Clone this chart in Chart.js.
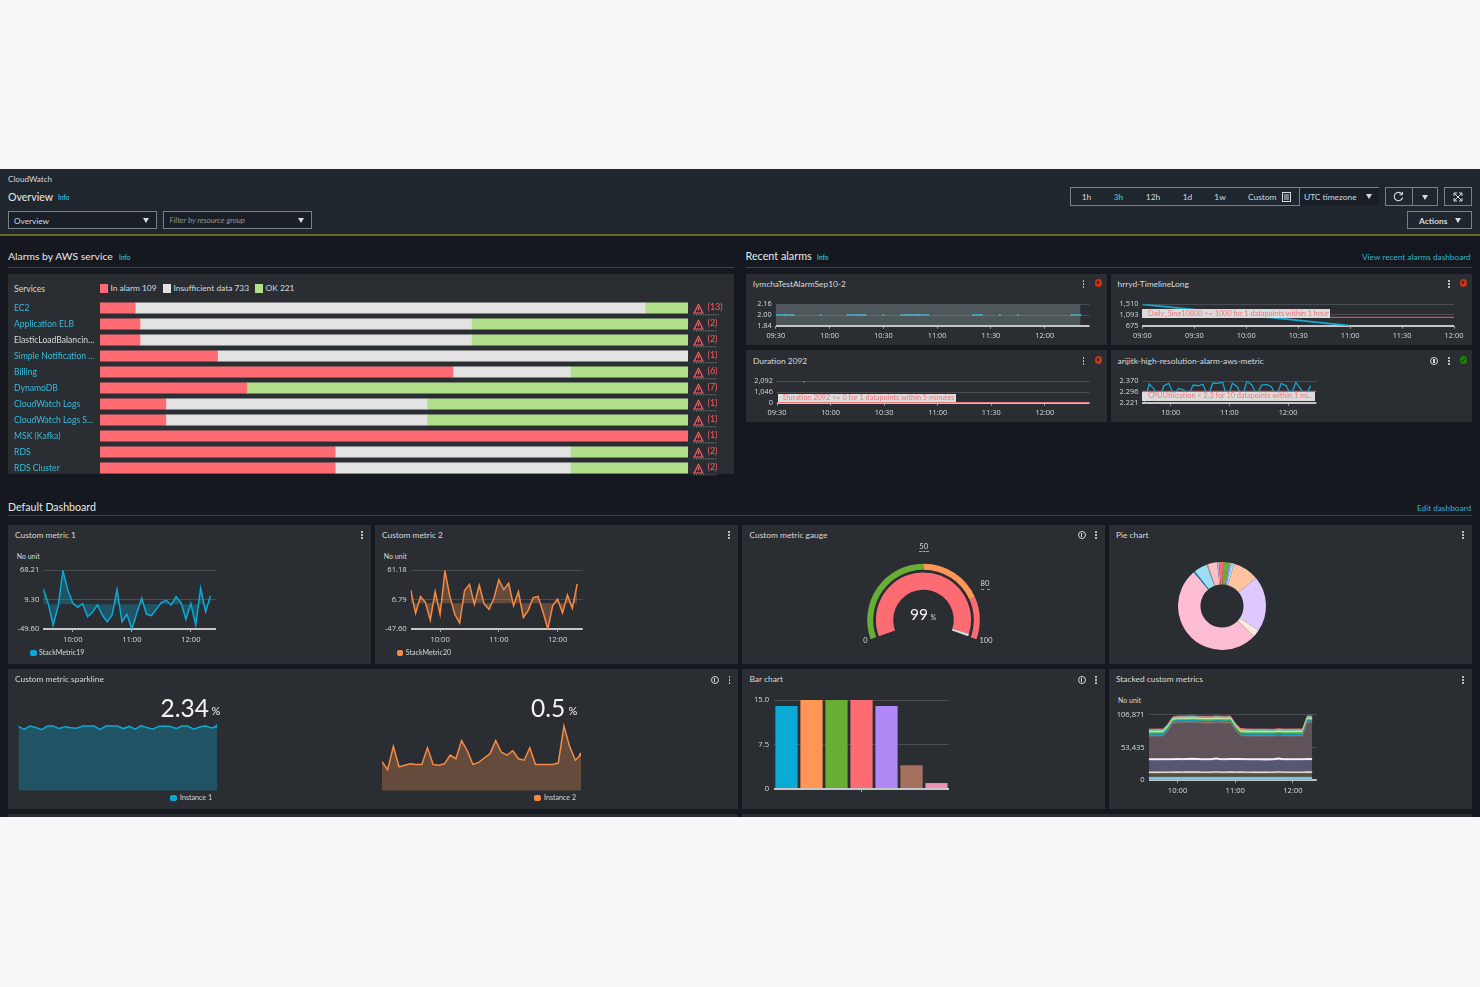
<!DOCTYPE html>
<html><head><meta charset="utf-8">
<script src="https://cdn.jsdelivr.net/npm/chart.js@4"></script>
<style>
html,body{margin:0;padding:0;background:#f7f7f7;overflow:hidden}
#root{position:absolute;left:0;top:0;width:1480px;height:987px;background:#f7f7f7;overflow:hidden;font-family:Lato,"Open Sans",sans-serif;color:#d5dbdb;filter:blur(.35px)}
.b{position:absolute;box-sizing:border-box}
.b svg{display:block}
.t{position:absolute;white-space:nowrap;transform:translateY(-50%);line-height:1}
canvas{position:absolute}
</style></head><body><div id="root"></div>
<script>
/* ---------- data ---------- */
const services=["EC2","Application ELB","ElasticLoadBalancin...","Simple Notification ...","Billing","DynamoDB","CloudWatch Logs","CloudWatch Logs S...","MSK (Kafka)","RDS","RDS Cluster"];
const inAlarmPct=[6,6.8,6.8,20,60,25,11.2,11.2,100,40,40];
const insufficientPct=[86.7,56.4,56.4,80,20,0,44.4,44.4,0,40,40];
const okPct=[7.3,36.8,36.8,0,20,75,44.4,44.4,0,20,20];
const alarmCounts=[13,2,2,1,6,7,1,1,1,2,2];

const timeMin=[570,575,580,585,590,595,600,605,610,615,620,625,630,635,640,645,650,655,660,665,670,675,680,685,690,695,700,705,710,715,720,725,730,735,740];
const hourTicks=[600,660,720];
const halfHourTicks=[570,600,630,660,690,720];
const hrrydTicks=[540,570,600,630,660,690,720];

const metric1=[30.7,1.9,-41.6,-4.8,66.9,28.7,1.9,-6.1,1.3,-24.8,-16.1,-1.4,-21.5,-34.9,-21.5,29.4,-34.9,-20.1,-49.6,-18.1,12,-20.1,-22.8,-9.4,3.3,8,-1.4,15.3,3.3,-30.2,1.3,-41.6,32.1,-14.8,17.3];
const metric1Ticks=[68.21,9.30,-49.60];
const metric2=[24.7,-18.5,12.4,1.9,-30.9,21.6,-20.4,59.9,12.4,-20.4,-36.5,23.5,35.2,-1.9,33.4,-1.2,-11.1,9.3,43.3,25.3,37.1,-4.3,21.6,-26.6,-13,10.5,13,-15.5,-47.6,-4.3,8,-17.9,15.5,-9.3,35.8];
const metric2Ticks=[61.18,6.79,-47.60];

const gaugeThresholds=[50,30,20];
const gaugeValue=[98.6,1.4];
const gaugeGap=[100];

const pieValues=[8.2,2.5,4,34.6,73.4,9.4,186.8,1.8,17.7,1.3,12.5,2.5,5.3];
const pieColors=["#69ae34","#b088f5","#9bdcf8","#ffc3a0","#dfc8ff","#fdeade","#ffbdd3","#0f7f98","#9bdcf8","#b0a090","#ffc0c4","#b0b8d0","#ff6b73"];

const spark1=[2.34,2.23,2.35,2.30,2.22,2.35,2.35,2.26,2.33,2.29,2.27,2.35,2.35,2.35,2.22,2.35,2.35,2.35,2.26,2.34,2.24,2.36,2.30,2.24,2.34,2.35,2.34,2.26,2.35,2.35,2.24,2.32,2.36,2.28,2.34];
const spark2=[0.40,0.29,0.61,0.33,0.35,0.37,0.36,0.36,0.59,0.36,0.35,0.37,0.49,0.44,0.69,0.55,0.36,0.39,0.45,0.51,0.69,0.53,0.49,0.55,0.44,0.42,0.59,0.36,0.36,0.36,0.36,0.38,0.89,0.61,0.42,0.50];
const spark2Idx=[0,1,2,3,4,5,6,7,8,9,10,11,12,13,14,15,16,17,18,19,20,21,22,23,24,25,26,27,28,29,30,31,32,33,34,35];

const barLabels=["a","b","c","d","e","f","g"];
const barValues=[14,15,15,15,14,4,1];
const barColors=["#0aaad4","#ff9655","#69ae34","#ff6b73","#b088f5","#a6705e","#ee90b5"];
const barTicks=[15,7.5,0];

const stackTicks=[106871,53435,0];
const stackCoral=[1000,1000,1000,1000,1000,1000,1000,1000,1000,1000,1000,1000,1000,1000,1000,1000,1000,1000,1000,1000,1000,1000,1000,1000,1000,1000,1000,1000,1000,1000,1000,1000,1000,1000,1000];
const stackBlue=[3800,3800,3800,3800,3800,3800,3800,3800,3800,3800,3800,3800,3800,3800,3800,3800,3800,3800,3800,3800,3800,3800,3800,3800,3800,3800,3800,3800,3800,3800,3800,3800,3800,3800,3800];
const stackTan=[6400,6500,6400,6500,6500,6500,6600,6500,6600,6700,6600,6500,6500,6500,6900,6500,6500,6600,6500,6600,6500,6500,6400,6500,6400,6500,6500,6900,6500,6500,6500,6500,6500,6600,6500];
const stackCream=[2000,2000,2000,2000,2000,2000,2000,2000,2000,2000,2000,2000,2000,2000,2000,2000,2000,2000,2000,2000,2000,2000,2000,2000,2000,2000,2000,2000,2000,2000,2000,2000,2000,2000,2000];
const stackSlate=[18500,18400,18500,18500,18400,18500,18700,18600,18800,18900,18700,18500,18400,18500,19300,18600,18500,18700,18800,18700,18600,18500,18500,18400,18400,18300,18400,19200,18500,18400,18500,18600,18600,18700,18600];
const stackLav=[3000,3000,3000,3000,3000,3000,3000,3000,3000,3000,3000,3000,3000,3000,3000,3000,3000,3000,3000,3000,3000,3000,3000,3000,3000,3000,3000,3000,3000,3000,3000,3000,3000,3000,3000];
const stackMauve=[37300,37300,37400,37300,46000,58000,59000,59200,58900,59300,59000,58800,58600,58500,58000,58900,58500,58700,47000,38000,37400,37300,37300,37200,37300,37400,37200,36900,37300,37400,37200,37300,37300,59300,58800];
const stackOrange=[500,500,500,500,500,500,500,500,500,500,500,500,500,500,500,500,500,500,500,500,500,500,500,500,500,500,500,500,500,500,500,500,500,500,500];
const stackTeal=[2700,2700,2700,2700,2600,2400,2500,2400,2400,2300,2400,2500,2600,2700,2700,2500,2700,2700,2500,2800,2800,2700,2700,2800,2900,3100,3200,3000,2700,2700,2800,2800,2700,2600,2500];
const stackGreen=[2300,2300,2300,2300,2200,2100,2100,2000,2200,2100,2000,2100,2200,2000,2100,2100,2100,2200,2300,2400,2300,2300,2300,2300,2200,1900,1800,1900,2300,2300,2300,2300,2300,2100,2200];
const stackPale=[2200,2200,2200,2200,2100,2000,2000,2100,2100,2000,2000,2100,2100,2100,2000,2000,2100,2100,2200,2300,2200,2200,2200,2200,2200,2100,2000,2200,2200,2200,2200,2200,2200,2000,2100];
const stackAqua=[2300,2300,2300,2300,2200,2100,2100,2200,2100,2100,2200,2100,2100,2200,2200,2100,2200,2100,2200,2200,2300,2300,2300,2300,2300,2300,2300,2300,2300,2300,2300,2300,2300,2200,2200];
const stackRed=[1300,1300,1300,1300,1300,1300,1300,1400,1300,1300,1300,1300,1300,1300,1300,1300,1300,1300,1300,1300,1300,1300,1300,1300,1300,1300,1300,1300,1300,1300,1300,1300,1300,1300,1300];

const lymTicks=[2.16,2.00,1.84];
const lymValues=[2,2,2,null,null,2,null,null,2,2,2,null,2,null,2,2,2,2,null,null,null,null,2,2,null,2,null,2,null,null,null,null,null,2,2];
const lymTimes=[570,575,580,585,590,595,600,605,610,615,620,625,630,635,640,645,650,655,660,665,670,675,680,685,690,695,700,705,710,715,720,725,730,735,740];
const lymBandX=[570,740];
const lymBandY=[2.16,2.16];

const hrrydTicksY=[1510,1093,675];
const hrrydX=[540,660];
const hrrydY=[1510,675];
const hrrydThreshX=[540,720];
const hrrydThreshY=[1000,1000];

const durTicksY=[2092,1046,0];
const durX=[585];
const durY=[2092];
const durThreshX=[570,745];
const durThreshY=[0,0];

const cpuTicksY=[2.370,2.296,2.221];
const cpuTimes=[573,578,583,588,593,598,603,608,613,618,623,628,633,638,643,648,653,658,663,668,673,678,683,688,693,698,703,708,713,718,723,728,733,738,743];
const cpuValues=[2.226,2.351,2.316,2.238,2.339,2.356,2.273,2.320,2.311,2.273,2.344,2.339,2.349,2.261,2.358,2.356,2.363,2.249,2.356,2.332,2.261,2.370,2.344,2.273,2.344,2.349,2.332,2.261,2.356,2.339,2.273,2.363,2.316,2.261,2.339];
const cpuThreshX=[571,749];
const cpuThreshY=[2.3,2.3];

/* ---------- page helpers ---------- */
const root=document.getElementById('root');
const PANEL='#2a2e33',LINK='#2bb3d3',TXT='#d5dbdb',AXIS='#d5dbdb',GRID='#494d52',BASE='#c4c6c8',FF='"Open Sans",sans-serif';
function box(l,t,r,b,bg,extra){const d=document.createElement('div');d.className='b';d.style.cssText=`left:${l}px;top:${t}px;width:${r-l}px;height:${b-t}px;background:${bg||'transparent'};${extra||''}`;root.appendChild(d);return d;}
function txt(x,y,s,size,color,extra){const d=document.createElement('div');d.className='t';d.textContent=s;d.style.cssText=`left:${x}px;top:${y}px;font-size:${size}px;color:${color||TXT};${extra||''}`;root.appendChild(d);return d;}
function tri(x,y,w,h,color){const d=document.createElement('div');d.className='b';d.style.cssText=`left:${x-w/2}px;top:${y-h/2}px;width:0;height:0;border-left:${w/2}px solid transparent;border-right:${w/2}px solid transparent;border-top:${h}px solid ${color||TXT}`;root.appendChild(d);}
function kebab(x,y){[-3,0,3].forEach(o=>box(x-.8,y+o-.8,x+.8,y+o+.8,'#d5dbdb','border-radius:50%'));}
function infoIcon(x,y){box(x-4,y-4,x+4,y+4,'transparent','border:1px solid #d5dbdb;border-radius:50%');box(x-.6,y-2.2,x+.6,y+2.4,'#d5dbdb');}
function status(x,y,c,mark){box(x-3.5,y-3.8,x+3.5,y+3.8,c,'border-radius:50%');if(mark==='!')box(x-.6,y-2.4,x+.6,y+1,'#2a2e33');else box(x-2,y-1.4,x+2,y+.4,'transparent','border-left:1px solid #2a2e33;border-bottom:1px solid #2a2e33;transform:rotate(-45deg)');}
function svg(x,y,w,h,inner){const d=document.createElement('div');d.className='b';d.style.cssText=`left:${x}px;top:${y}px;width:${w}px;height:${h}px`;d.innerHTML=`<svg width="${w}" height="${h}" viewBox="0 0 ${w} ${h}" fill="none" stroke="#d5dbdb">${inner}</svg>`;root.appendChild(d);}

/* page frame */
box(0,169,1480,817,'#15181e');
box(0,169,1480,234,'#20262e');
box(0,234,1480,235.6,'#6b672c');

txt(8,178.5,'CloudWatch',8.1);
txt(8,197,'Overview',10.6,'#e6eaea');
txt(58,198,'Info',6.5,LINK,'font-weight:700');
const BR='border:1px solid #79808a;';
box(8,211,157,229,'#1a1f27',BR);txt(14,220.5,'Overview',8.2);tri(146,220.5,6,5);
box(163,211,312,229,'#1a1f27',BR);txt(169.5,220.5,'Filter by resource group',7.8,'#8d9499','font-style:italic');tri(301,220.5,6,5);

box(1070,187,1379,206,'#20262e',BR);
box(1299,187.5,1378.5,205.5,'#1a1f27','border-left:1px solid #79808a');
[['1h',1086.5,TXT],['3h',1118.5,LINK],['12h',1153,TXT],['1d',1187.5,TXT],['1w',1220,TXT]].forEach(a=>{txt(a[1],196.8,a[0],8.4,a[2],'transform:translate(-50%,-50%);'+(a[2]===LINK?'font-weight:700':''));});
txt(1248,196.8,'Custom',8.4);
svg(1282,192,9,10,'<rect x=".5" y=".5" width="8" height="9"/><path d="M2 3h5M2 5h5M2 7h5"/>');
txt(1304,196.8,'UTC timezone',8.4);tri(1369,196.5,6,5);
box(1385,187,1438,206,'#20262e',BR);box(1411.5,187.5,1412.5,205.5,'#79808a');
svg(1393,191,11,11,'<path d="M9 3.2A4.2 4.2 0 1 0 9.6 6.5" stroke-width="1.1"/><path d="M9.5 .8v3h-3" stroke-width="1"/>');
tri(1424.5,197,6,5);
box(1444,187,1472,206,'#20262e',BR);
svg(1453,192,10,10,'<path d="M1 1l8 8M9 1L1 9M1 4V1h3M6 1h3v3M1 6v3h3M9 6v3H6"/>');
box(1407,211,1472,229,'#20262e',BR);txt(1419,220.5,'Actions',8.4,TXT,'font-weight:700');tri(1458,220.5,6,5);

/* section heads */
txt(8,256,'Alarms by AWS service',10.4,'#e6eaea');
txt(119,257.5,'Info',6.5,LINK,'font-weight:700');
box(8,267,734,268,'#3b4046');
txt(745.5,256,'Recent alarms',10.8,'#e6eaea');
txt(817,257.5,'Info',6.5,LINK,'font-weight:700');
txt(1362,257,'View recent alarms dashboard',8.25,LINK);
box(746,267,1472,268,'#3b4046');
txt(8,507,'Default Dashboard',10.6,'#e6eaea');
txt(1417,508,'Edit dashboard',8.25,LINK);
box(8,515,1472,516,'#3b4046');

/* panels */
const pAlarm={l:8,t:274,r:734,b:474};
const pA={l:746,t:274,r:1107,b:345},pB={l:1111,t:274,r:1472,b:345},pC={l:746,t:350,r:1107,b:422},pD={l:1111,t:350,r:1472,b:422};
const pM1={l:8,t:525,r:371,b:664},pM2={l:375,t:525,r:738,b:664},pG={l:742,t:525,r:1105,b:664},pP={l:1109,t:525,r:1472,b:664};
const pS={l:8,t:669,r:738,b:809},pBar={l:742,t:669,r:1105,b:809},pSt={l:1109,t:669,r:1472,b:809};
[pAlarm,pA,pB,pC,pD,pM1,pM2,pG,pP,pS,pBar,pSt].forEach(p=>box(p.l,p.t,p.r,p.b,PANEL));
box(8,814,737,817,PANEL);box(742,814,1472,817,PANEL);

/* ---------- chart helpers ---------- */
Chart.defaults.animation=false;
Chart.defaults.responsive=false;
Chart.defaults.maintainAspectRatio=false;
Chart.defaults.font.family=FF;
Chart.defaults.plugins.legend.display=false;
Chart.defaults.plugins.tooltip.enabled=false;
function mk(rect,config){const c=document.createElement('canvas');c.width=rect.r-rect.l;c.height=rect.b-rect.t;c.style.left=rect.l+'px';c.style.top=rect.t+'px';root.appendChild(c);return new Chart(c,config);}
const hhmm=m=>String(Math.floor(m/60)).padStart(2,'0')+':'+String(m%60).padStart(2,'0');
const pts=(xs,ys)=>ys.map((v,i)=>({x:xs[i],y:v}));
function timeOpts(rect,plot,xr,xTicks,yTicks,fmt,fs,extra){
  const low=Math.min(...yTicks);
  return Object.assign({
    layout:{padding:{top:plot.t-rect.t,right:rect.r-plot.r}},
    elements:{point:{radius:0},line:{tension:0}},
    scales:{
      x:{type:'linear',min:xr[0],max:xr[1],afterBuildTicks:a=>{a.ticks=xTicks.map(v=>({value:v}));},afterFit:a=>{a.height=rect.b-plot.b;},
        ticks:{callback:v=>hhmm(v),color:AXIS,font:{size:fs},padding:3,autoSkip:false,maxRotation:0},
        grid:{drawOnChartArea:false,tickLength:3,color:'#9ea2a6'},border:{display:false}},
      y:{min:low,max:Math.max(...yTicks),afterBuildTicks:a=>{a.ticks=yTicks.map(v=>({value:v}));},afterFit:a=>{a.width=plot.l-rect.l;},
        ticks:{callback:fmt,color:AXIS,font:{size:fs},padding:4,autoSkip:false},
        grid:{drawTicks:false,color:c=>c.tick&&c.tick.value===low?BASE:GRID,lineWidth:c=>c.tick&&c.tick.value===low?2:1},border:{display:false}}
    }},extra||{});
}
const fix2=v=>Number(v).toFixed(2),fix3=v=>Number(v).toFixed(3),comma=v=>Number(v).toLocaleString('en-US');
const BLUE='#0aaad4',ORANGE='#f58a47',RED='#ff6b73';

/* alarms by service */
txt(14,288.5,'Services',8.6);
box(100,284,108,293,RED);txt(110.5,288,'In alarm 109',8.4);
box(163,284,171,293,'#e3e3e3');txt(173.5,288,'Insufficient data 733',8.4);
box(255,284,263,293,'#b2df8a');txt(265.5,288,'OK 221',8.4);
const alarmPlugin={id:'alarmMarks',afterDatasetsDraw(ch){const g=ch.ctx,s=ch.scales.y;alarmCounts.forEach((n,i)=>{const y=s.getPixelForValue(i);const x=682.5;
  g.save();g.strokeStyle='#ff5d64';g.lineWidth=1.2;g.beginPath();g.moveTo(x+8,y-3.5);g.lineTo(x+12.2,y+5);g.lineTo(x+3.6,y+5);g.closePath();g.stroke();
  g.fillStyle='#ff5d64';g.fillRect(x+7.4,y-.5,1.1,3);
  g.font='9px Lato,'+FF;g.textAlign='left';g.textBaseline='middle';g.fillText('('+n+')',x+17,y-.8);
  g.strokeStyle='#a9adb0';g.lineWidth=.7;g.setLineDash([1.2,1.2]);g.beginPath();g.moveTo(x+3,y+6.8);g.lineTo(x+(n>9?29:26),y+6.8);g.stroke();g.restore();});}};
const rA={l:8,t:300,r:734,b:476};
mk(rA,{type:'bar',plugins:[alarmPlugin],data:{labels:services,datasets:[
  {label:'In alarm',data:inAlarmPct,backgroundColor:RED},
  {label:'Insufficient data',data:insufficientPct,backgroundColor:'#e3e3e3'},
  {label:'OK',data:okPct,backgroundColor:'#b2df8a'}]},
  options:{indexAxis:'y',layout:{padding:{left:6,right:46}},datasets:{bar:{barThickness:10.5,borderWidth:0}},
    scales:{x:{stacked:true,min:0,max:100,display:false},
      y:{stacked:true,afterFit:a=>{a.width=86;a.paddingTop=0;a.paddingBottom=0;},grid:{display:false},border:{display:false},
        ticks:{crossAlign:'far',padding:0,autoSkip:false,font:{family:'Lato',size:8.6},color:c=>services[c.index].startsWith('Elastic')?TXT:'#33bcdc'}}}}});

/* recent alarms */
const recent=[['lymchaTestAlarmSep10-2',753,283.5],['hrryd-TimelineLong',1117.5,283.5],['Duration 2092',753,360.5],['arijitk-high-resolution-alarm-aws-metric',1117.5,360.5]];
recent.forEach(r=>txt(r[1],r[2],r[0],8.4));
kebab(1083.5,284);kebab(1449,284);kebab(1083.5,361);kebab(1449,361);
status(1098,283,'#d13212','!');status(1463,283,'#d13212','!');status(1098,360,'#d13212','!');status(1463,360,'#1d8102','c');
infoIcon(1434,361);

mk(pA,{type:'line',data:{datasets:[
  {data:pts(lymBandX,lymBandY),fill:'start',backgroundColor:'rgba(170,190,190,.28)',borderWidth:0},
  {data:pts(lymTimes,lymValues),borderColor:'#29a9cc',borderWidth:1.6,pointRadius:1,pointBackgroundColor:'#29a9cc',pointBorderWidth:0,spanGaps:false}]},
  options:timeOpts(pA,{l:775.8,t:304.3,r:1089.5,b:325.7},[570,745],halfHourTicks,lymTicks,fix2,7.4)});
mk(pB,{type:'line',data:{datasets:[
  {data:pts(hrrydX,hrrydY),borderColor:'#16a6cd',borderWidth:1.8},
  {data:pts(hrrydThreshX,hrrydThreshY),borderColor:'#c9555c',borderWidth:1.2}]},
  options:timeOpts(pB,{l:1142.4,t:304.3,r:1454,b:325.7},[540,720],hrrydTicks,hrrydTicksY,comma,7.4)});
mk(pC,{type:'line',data:{datasets:[
  {data:pts(durThreshX,durThreshY),borderColor:'#f0666e',borderWidth:1.2},
  {data:pts(durX,durY),pointRadius:1.3,pointBackgroundColor:'#29a9cc',pointBorderWidth:0,showLine:false}]},
  options:timeOpts(pC,{l:777,t:381.3,r:1089.5,b:402.7},[570,745],halfHourTicks,durTicksY,comma,7.4)});
mk(pD,{type:'line',data:{datasets:[
  {data:pts(cpuTimes,cpuValues),borderColor:'#16a6cd',borderWidth:1.3},
  {data:pts(cpuThreshX,cpuThreshY),borderColor:'#d8555c',borderWidth:1.1}]},
  options:timeOpts(pD,{l:1142.4,t:381.3,r:1316.4,b:402.7},[571,749],hourTicks,cpuTicksY,fix3,7.4)});
box(1142,309,1330,318,'#dcdcdc');txt(1148,313.7,'Daily_Sine10800 >= 1000 for 1 datapoints within 1 hour',7.3,'#f3777d');
box(778,394,956,402.3,'#dcdcdc');txt(783,398.3,'Duration 2092 >= 0 for 1 datapoints within 5 minutes',7.3,'#f3777d');
box(1142,392,1314.5,400.5,'#dcdcdc');txt(1148,396.4,'CPUUtilization < 2.3 for 10 datapoints within 1 mi...',7.3,'#f3777d');

/* custom metrics */
txt(15,534.5,'Custom metric 1',8.4);kebab(362,535);
txt(16.7,555.7,'No unit',7);
const fillB='rgba(10,170,212,.3)',fillO='rgba(255,150,85,.28)';
mk(pM1,{type:'line',data:{datasets:[{data:pts(timeMin,metric1),borderColor:BLUE,borderWidth:1.5,fill:'origin',backgroundColor:fillB}]},
  options:timeOpts(pM1,{l:43.3,t:570.3,r:216,b:629},[570,745.6],hourTicks,metric1Ticks,fix2,7.6)});
box(30,649.5,36.8,656,BLUE,'border-radius:2px');txt(39,652.8,'StackMetric19',7.1);
txt(382,534.5,'Custom metric 2',8.4);kebab(729,535);
txt(383.7,555.7,'No unit',7);
mk(pM2,{type:'line',data:{datasets:[{data:pts(timeMin,metric2),borderColor:ORANGE,borderWidth:1.5,fill:'origin',backgroundColor:fillO}]},
  options:timeOpts(pM2,{l:410.7,t:570.3,r:582.7,b:629},[570,745.6],hourTicks,metric2Ticks,fix2,7.6)});
box(396.7,649.5,403.5,656,ORANGE,'border-radius:2px');txt(405.8,652.8,'StackMetric20',7.1);

/* gauge */
txt(749.5,534.5,'Custom metric gauge',8.4);infoIcon(1081.5,535);kebab(1096,535);
mk(pG,{type:'doughnut',data:{datasets:[
  {data:gaugeThresholds,backgroundColor:['#69ae34','#ff9655','#ff6b73'],borderWidth:0,weight:6},
  {data:gaugeGap,backgroundColor:'rgba(0,0,0,0)',borderWidth:0,weight:2.7},
  {data:gaugeValue,backgroundColor:['#ff6b73','#d9dcde'],borderWidth:0,weight:17.3}]},
  options:{rotation:-110,circumference:220,radius:56.3,cutout:'53.8%',layout:{padding:{top:14}}}});
function tc(x,y,s,size,color,extra){const d=txt(x,y,s,size,color,extra);d.style.transform='translate(-50%,-50%)';return d;}
tc(923.7,546.7,'50',7.6);box(919,551,928.5,552,'transparent','border-top:1px dashed #9ea2a6');
tc(985,584,'80',7.6);box(980.5,588.8,990,589.8,'transparent','border-top:1px dashed #9ea2a6');
tc(865.3,641.3,'0',7.4);tc(986,641.3,'100',7.4);
tc(919,615,'99',15.5,'#f2f3f3');tc(933.3,617,'%',7);

/* pie */
txt(1116,534.5,'Pie chart',8.4);kebab(1463,535);
mk({l:1172,t:556,r:1272,b:656},{type:'doughnut',data:{datasets:[{data:pieValues,backgroundColor:pieColors,borderWidth:0}]},
  options:{rotation:1.3,radius:44,cutout:'49%'}});

/* sparklines */
txt(15,679,'Custom metric sparkline',8.4);infoIcon(714.5,680);kebab(729.5,680);
function sparkOpts(rect,plot,xr,ymax){return {layout:{padding:{left:plot.l-rect.l,right:rect.r-plot.r,top:plot.t-rect.t,bottom:rect.b-plot.b}},
  scales:{x:{type:'linear',display:false,min:xr[0],max:xr[1]},y:{display:false,min:0,max:ymax}},elements:{line:{tension:0}},
  plugins:{legend:{display:false}}};}
const rS1={l:14,t:715,r:222,b:795},rS2={l:378,t:715,r:586,b:795};
mk(rS1,{type:'line',data:{datasets:[{data:pts(timeMin,spark1),borderColor:BLUE,borderWidth:1.5,fill:'origin',backgroundColor:fillB,
  pointRadius:spark1.map((v,i)=>i===spark1.length-1?2:0),pointBackgroundColor:BLUE,pointBorderWidth:0}]},options:sparkOpts(rS1,{l:18.3,t:721.7,r:217,b:790.7},[570,740],2.51)});
mk(rS2,{type:'line',data:{datasets:[{data:pts(spark2Idx,spark2),borderColor:ORANGE,borderWidth:1.5,fill:'origin',backgroundColor:fillO,
  pointRadius:spark2.map((v,i)=>i===spark2.length-1?2:0),pointBackgroundColor:ORANGE,pointBorderWidth:0}]},options:sparkOpts(rS2,{l:382,t:721.7,r:581,b:790.7},[0,35],0.95)});
txt(160.5,708,'2.34',24.5,'#f2f3f3');txt(211.5,709.5,'%',11,'#f2f3f3');
box(170.3,794.8,177,801.4,BLUE,'border-radius:2px');txt(180,798.2,'Instance 1',7.1);
txt(531,708,'0.5',24.5,'#f2f3f3');txt(568.5,709.5,'%',11,'#f2f3f3');
box(534.3,794.8,541,801.4,ORANGE,'border-radius:2px');txt(544,798.2,'Instance 2',7.1);

/* bar chart */
txt(749.5,679,'Bar chart',8.4);infoIcon(1081.5,680);kebab(1096,680);
const pB2={l:774,t:700,r:949,b:789};
mk(pBar,{type:'bar',data:{labels:barLabels,datasets:[{data:barValues,backgroundColor:barColors,borderWidth:0,barPercentage:.89,categoryPercentage:1}]},
  options:{layout:{padding:{top:pB2.t-pBar.t,right:pBar.r-pB2.r}},scales:{
    x:{afterBuildTicks:a=>{a.ticks=[a.ticks[3]];},afterFit:a=>{a.height=pBar.b-pB2.b;},ticks:{callback:()=>''},grid:{offset:false,drawOnChartArea:false,tickLength:3,color:'#9ea2a6'},border:{display:false}},
    y:{min:0,max:15,afterBuildTicks:a=>{a.ticks=barTicks.map(v=>({value:v}));},afterFit:a=>{a.width=pB2.l-pBar.l;},
      ticks:{callback:v=>v===0?'0':Number(v).toFixed(1),color:AXIS,font:{size:7.6},padding:5,autoSkip:false},
      grid:{drawTicks:false,color:c=>c.tick&&c.tick.value===0?BASE:GRID,lineWidth:c=>c.tick&&c.tick.value===0?2:1},border:{display:false}}}}});

/* stacked */
txt(1116,679,'Stacked custom metrics',8.4);kebab(1463,680);
txt(1118,700.3,'No unit',7);
const stackBands=[
 [stackCoral,'#ff7b80','#ff7b80',1],[stackBlue,'#7dcff0','#6cc6ea',1],[stackTan,'#574e43','#6d6456',1],[stackCream,'#efe4d8','#f7ece2',1.4],
 [stackSlate,'#55566f','#5f607a',1],[stackLav,'#efe8f0','#f7f1f4',1.4],[stackMauve,'#5f5259','#7a6f76',1],[stackOrange,'#c98a4f','#c98a4f',1],
 [stackTeal,'#0e85a3','#0e9abc',1],[stackGreen,'#5fae55','#6fbf4a',1],[stackPale,'#cfe6a4','#d8e8a0',1],[stackAqua,'#5fc4b0','#5fc4b0',1],[stackRed,'#ff6b73','#ff6b73',1]];
mk(pSt,{type:'line',data:{datasets:stackBands.map((b,i)=>({data:pts(timeMin,b[0]),backgroundColor:b[1],borderColor:b[2],borderWidth:b[3],fill:i===0?'origin':'-1'}))},
  options:(()=>{const o=timeOpts(pSt,{l:1148.7,t:714.7,r:1316.7,b:780.3},[570,744.7],hourTicks,stackTicks,comma,7.6);o.scales.y.stacked=true;return o;})()});
</script></body></html>
